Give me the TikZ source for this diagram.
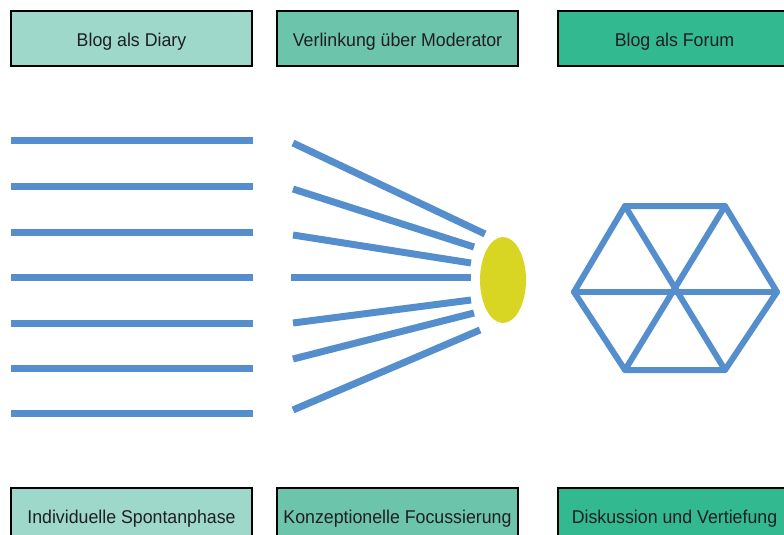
\documentclass[tikz,border=0pt]{standalone}
\usepackage{fontspec}
\setmainfont{Liberation Sans}
\usetikzlibrary{shapes.geometric}
\definecolor{boxA}{RGB}{157,216,203}
\definecolor{boxB}{RGB}{108,196,170}
\definecolor{boxC}{RGB}{50,185,143}
\definecolor{lineblue}{RGB}{84,142,205}
\definecolor{hub}{RGB}{216,214,34}
\newcommand{\phasetext}[1]{\scalebox{0.96}[1]{#1}}
\begin{document}
\begin{tikzpicture}[x=1pt,y=-1pt,
  phase/.style={draw=black,line width=1.2pt,minimum width=241pt,minimum height=55pt,inner sep=0pt,text height=16.2pt,text depth=0pt,font=\fontsize{18.5}{22}\selectfont,text=black!88},
  lowphase/.style={phase,minimum height=58pt,text height=13.2pt},
  strand/.style={draw=lineblue,line width=7pt},
  hexline/.style={draw=lineblue,line width=6pt,line cap=round,line join=round}]
\useasboundingbox (0,0) rectangle (784,535);
\clip (0,0) rectangle (784,535);
% top boxes
\node[phase,fill=boxA] (t1) at (131.5,38.5) {\phasetext{Blog als Diary}};
\node[phase,fill=boxB] (t2) at (397.5,38.5) {\phasetext{Verlinkung über Moderator}};
\node[phase,fill=boxC,minimum width=233pt] (t3) at (674.5,38.5) {\phasetext{Blog als Forum}};
% bottom boxes
\node[lowphase,fill=boxA] (b1) at (131.5,517) {\phasetext{Individuelle Spontanphase}};
\node[lowphase,fill=boxB] (b2) at (397.5,517) {\phasetext{Konzeptionelle Focussierung}};
\node[lowphase,fill=boxC,minimum width=233pt] (b3) at (674.5,517) {\phasetext{Diskussion und Vertiefung}};
% parallel lines
\foreach \y in {140,186,232,277,323,368,413}
  \draw[strand] (11,\y) -- (253,\y);
% hub
\node[ellipse,fill=hub,minimum width=46pt,minimum height=86pt,inner sep=0pt] (hub) at (503,280) {};
% fan lines
\draw[strand] (293,143) -- (485,234);
\draw[strand] (293,189) -- (474,247);
\draw[strand] (293,235) -- (471,263);
\draw[strand] (291,277) -- (471,277);
\draw[strand] (293,323) -- (471,300);
\draw[strand] (293,359) -- (474,313);
\draw[strand] (293,410) -- (480,330);
% hexagon
\coordinate (h1) at (625,206);
\coordinate (h2) at (725,206);
\coordinate (h3) at (777,292);
\coordinate (h4) at (725,370);
\coordinate (h5) at (625,370);
\coordinate (h6) at (574,292);
\draw[hexline] (h1) -- (h2) -- (h3) -- (h4) -- (h5) -- (h6) -- cycle;
\draw[hexline] (h1) -- (h4);
\draw[hexline] (h2) -- (h5);
\draw[hexline] (h6) -- (h3);
\end{tikzpicture}
\end{document}
